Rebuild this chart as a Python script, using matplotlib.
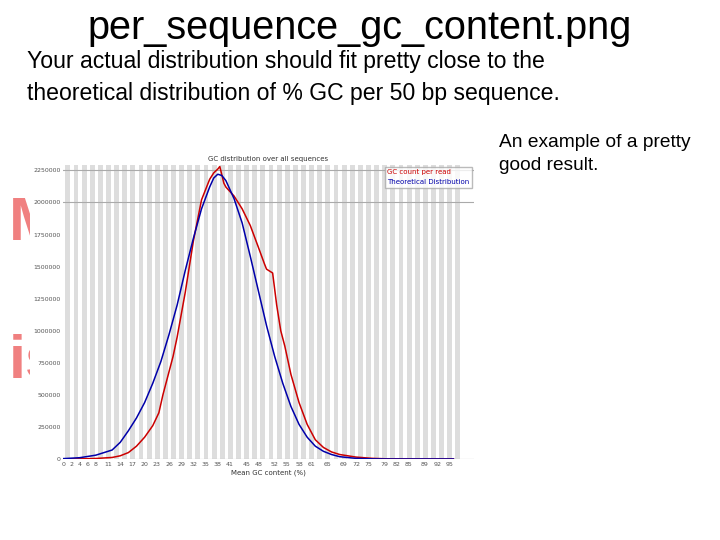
import matplotlib
matplotlib.use("Agg")
import matplotlib.pyplot as plt
from matplotlib.patches import Rectangle

blue_x = [0, 4, 8, 10, 12, 14, 16, 18, 20, 22, 24, 26, 28, 30, 32, 34, 36, 37, 38, 39, 40, 42, 44, 46, 48, 50, 52, 54, 56, 58, 60, 62, 64, 66, 68, 72, 76, 80, 88, 96]
blue_y = [0.003, 0.01, 0.03, 0.05, 0.07, 0.13, 0.22, 0.32, 0.44, 0.59, 0.76, 0.97, 1.2, 1.47, 1.72, 1.95, 2.12, 2.19, 2.22, 2.21, 2.17, 2.03, 1.84, 1.58, 1.31, 1.04, 0.8, 0.59, 0.41, 0.27, 0.17, 0.1, 0.06, 0.035, 0.018, 0.005, 0.001, 0, 0, 0]
red_x = [0, 4, 8, 12, 14, 16, 18, 20, 22, 23.5, 24.5, 25.5, 27, 28, 30, 32, 34, 36, 37, 38, 38.5, 39.5, 40, 42, 44, 46, 48, 49.5, 50, 51.5, 52.5, 53.5, 54.5, 56, 58, 60, 62, 64, 66, 68, 72, 76, 80, 88, 96]
red_y = [0, 0.001, 0.004, 0.012, 0.025, 0.05, 0.1, 0.17, 0.26, 0.36, 0.5, 0.62, 0.8, 0.95, 1.3, 1.7, 2.02, 2.18, 2.23, 2.26, 2.28, 2.15, 2.12, 2.05, 1.95, 1.82, 1.65, 1.52, 1.48, 1.45, 1.2, 1.0, 0.88, 0.66, 0.44, 0.27, 0.15, 0.09, 0.055, 0.035, 0.015, 0.005, 0.001, 0, 0]
xticks = [0, 2, 4, 6, 8, 11, 14, 17, 20, 23, 26, 29, 32, 35, 38, 41, 45, 48, 52, 55, 58, 61, 65, 69, 72, 75, 79, 82, 85, 89, 92, 95]
yticks = [0, 250000, 500000, 750000, 1000000, 1250000, 1500000, 1750000, 2000000, 2250000]

fig = plt.figure(figsize=(7.2, 5.4), dpi=100)
fig.text(0.5, 0.948, "per_sequence_gc_content.png", ha="center", va="center", fontsize=28.5, family="Liberation Sans")
fig.text(0.038, 0.857, "Your actual distribution should fit pretty close to the\ntheoretical distribution of % GC per 50 bp sequence.",
         ha="left", va="center", fontsize=16.6, family="Liberation Sans", linespacing=1.5)
fig.text(0.693, 0.715, "An example of a pretty\ngood result.", ha="left", va="center", fontsize=13.8, family="Liberation Sans", linespacing=1.45)
fig.text(0.012, 0.585, "M", fontsize=44, color="#f08080", weight="bold", family="Liberation Sans", va="center", zorder=0)
fig.text(0.012, 0.33, "is", fontsize=44, color="#f08080", weight="bold", family="Liberation Sans", va="center", zorder=0)
fig.patches.append(Rectangle((30 / 720, 0.09), 450 / 720, 0.62, transform=fig.transFigure, facecolor="white", edgecolor="none", zorder=0.5))

ax = fig.add_axes([0.088, 0.15, 0.57, 0.544])
ax.set_zorder(1)
for s in range(0, 98, 2):
    ax.axvspan(s + 0.5, s + 1.7, color="#dddddd", lw=0, zorder=0)
ax.axhline(2000000, color="#aaaaaa", lw=0.8, zorder=1)
ax.axhline(2250000, color="#aaaaaa", lw=0.8, zorder=1)
ax.plot(red_x, [v * 1e6 for v in red_y], color="#cc0000", lw=1.1, label="GC count per read", zorder=3)
ax.plot(blue_x, [v * 1e6 for v in blue_y], color="#0000aa", lw=1.1, label="Theoretical Distribution", zorder=3)
ax.set_xlim(0, 101)
ax.set_ylim(0, 2290000)
ax.set_xticks(xticks)
ax.set_xticklabels([str(t) for t in xticks], fontsize=4.5, color="#555555")
ax.set_yticks(yticks)
ax.set_yticklabels([str(t) for t in yticks], fontsize=4.5, color="#555555")
ax.tick_params(length=0, pad=2)
for sp in ax.spines.values():
    sp.set_visible(False)
ax.axhline(0, color="#999999", lw=0.8)
ax.set_title("GC distribution over all sequences", fontsize=5, color="#333333", pad=3)
ax.set_xlabel("Mean GC content (%)", fontsize=5, color="#333333", labelpad=2)
leg = ax.legend(loc="upper right", fontsize=5, frameon=True, fancybox=False, handlelength=0, handletextpad=0, borderaxespad=0.2)
leg.get_frame().set_edgecolor("#aaaaaa")
for t, c in zip(leg.get_texts(), ["#cc0000", "#0000aa"]):
    t.set_color(c)
for h in leg.legend_handles:
    h.set_visible(False)
fig.savefig("out.png", dpi=100)
